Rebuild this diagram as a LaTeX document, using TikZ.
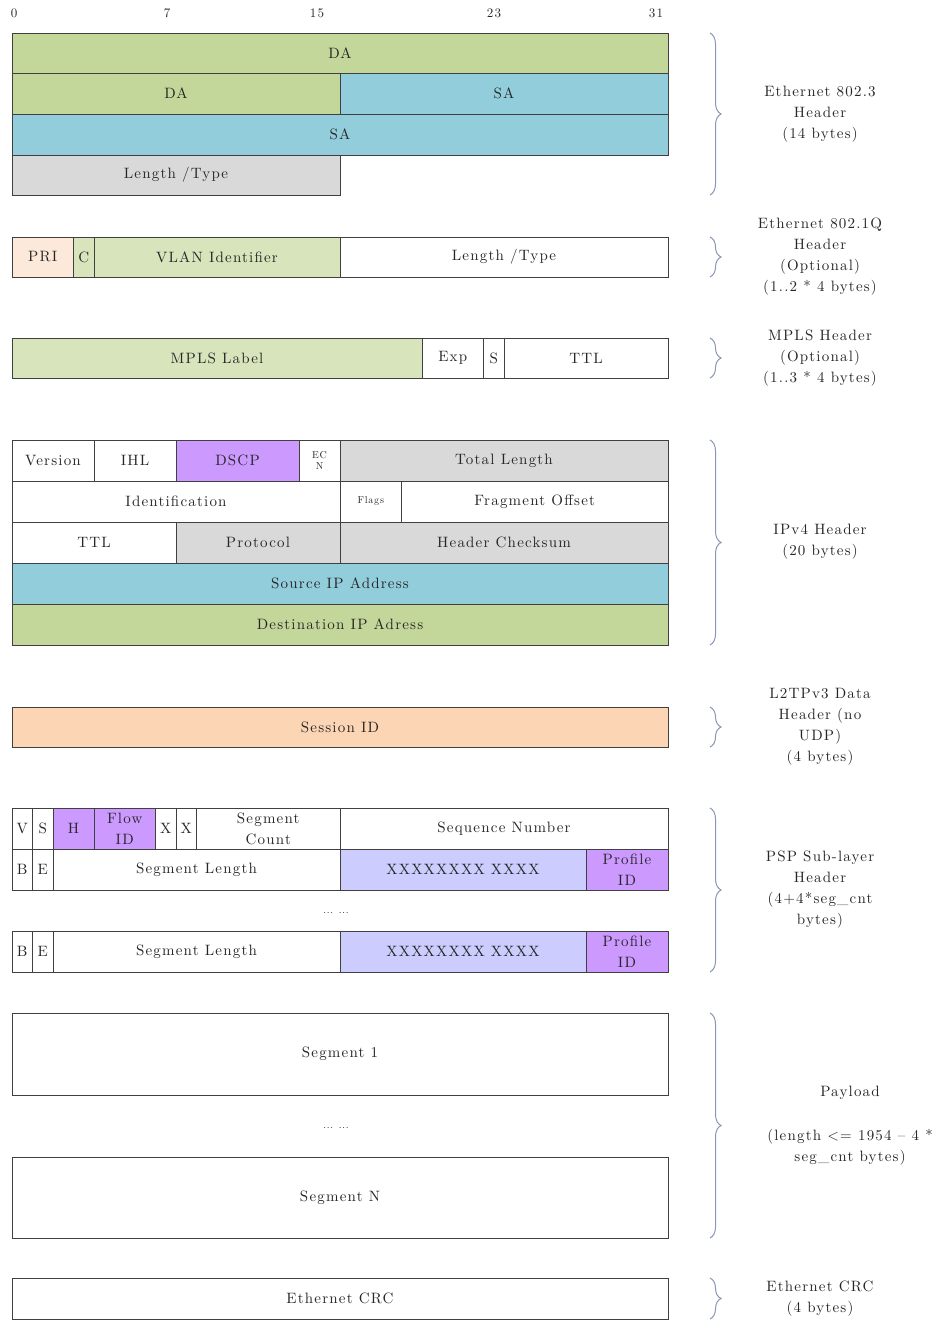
\documentclass[tikz,border=0pt]{standalone}
\usepackage{fontspec}
\setmainfont{lmroman10-regular}[Extension=.otf,LetterSpace=8]
\usetikzlibrary{decorations.pathreplacing}
\definecolor{cGreen}{HTML}{C4D79B}
\definecolor{cLGreen}{HTML}{D8E4BC}
\definecolor{cBlue}{HTML}{92CDDC}
\definecolor{cGray}{HTML}{D9D9D9}
\definecolor{cPeachL}{HTML}{FDE9D9}
\definecolor{cPeach}{HTML}{FCD5B4}
\definecolor{cPurple}{HTML}{CC99FF}
\definecolor{cLav}{HTML}{CCCCFF}
\definecolor{cBrace}{HTML}{8797B4}
\definecolor{cText}{HTML}{262626}
\newcommand\mainf{\fontsize{15}{21}\selectfont}
\newcommand\smallf{\fontsize{10}{11}\selectfont}
\newcommand\fieldbox[7]{\node[fieldst,#6,minimum width={(#4-#2)*1pt},minimum height={(#5-#3)*1pt}] (#1) at ({(#2+#4)/2},{(#3+#5)/2}) {#7};}
\tikzset{
  fieldst/.style={draw=black!75,line width=0.9pt,rectangle,inner sep=0pt,align=center,text=cText,font=\mainf,fill=white},
  lbl/.style={align=center,text=cText,font=\mainf,inner sep=0pt},
  tick/.style={text=cText,font=\fontsize{13}{14}\selectfont,inner sep=0pt},
  brc/.style={draw=cBrace,line width=1pt,decorate,decoration={brace,amplitude=11pt}}
}
\begin{document}
\begin{tikzpicture}[x=1pt,y=-1pt]
\useasboundingbox (0,0) rectangle (940,1321);
% bit ticks
\node[tick] (t0) at (14,13) {0};
\node[tick] (t7) at (167,13) {7};
\node[tick] (t15) at (317,13) {15};
\node[tick] (t23) at (494,13) {23};
\node[tick] (t31) at (656,13) {31};
% Ethernet 802.3
\fieldbox{da1}{12}{33}{668}{73}{fill=cGreen}{DA}
\fieldbox{da2}{12}{73}{340}{114}{fill=cGreen}{DA}
\fieldbox{sa1}{340}{73}{668}{114}{fill=cBlue}{SA}
\fieldbox{sa2}{12}{114}{668}{155}{fill=cBlue}{SA}
\fieldbox{lt1}{12}{155}{340}{195}{fill=cGray}{Length /Type}
% 802.1Q
\fieldbox{pri}{12}{237}{73.5}{277}{fill=cPeachL}{PRI}
\fieldbox{cfi}{73.5}{237}{94}{277}{fill=cLGreen}{C}
\fieldbox{vlan}{94}{237}{340}{277}{fill=cLGreen}{VLAN Identifier}
\fieldbox{lt2}{340}{237}{668}{277}{}{Length /Type}
% MPLS
\fieldbox{mlabel}{12}{338}{422}{378}{fill=cLGreen}{MPLS Label}
\fieldbox{mexp}{422}{338}{483.5}{378}{}{Exp}
\fieldbox{ms}{483.5}{338}{504}{378}{}{S}
\fieldbox{mttl}{504}{338}{668}{378}{}{TTL}
% IPv4
\fieldbox{ver}{12}{440}{94}{481}{}{Version}
\fieldbox{ihl}{94}{440}{176}{481}{}{IHL}
\fieldbox{dscp}{176}{440}{299}{481}{fill=cPurple}{DSCP}
\fieldbox{ecn}{299}{440}{340}{481}{font=\smallf}{EC\\N}
\fieldbox{totlen}{340}{440}{668}{481}{fill=cGray}{Total Length}
\fieldbox{ident}{12}{481}{340}{522}{}{Identification}
\fieldbox{flags}{340}{481}{401.5}{522}{font=\smallf}{Flags}
\fieldbox{fragoff}{401.5}{481}{668}{522}{}{Fragment Offset}
\fieldbox{ttl}{12}{522}{176}{563}{}{TTL}
\fieldbox{proto}{176}{522}{340}{563}{fill=cGray}{Protocol}
\fieldbox{cksum}{340}{522}{668}{563}{fill=cGray}{Header Checksum}
\fieldbox{srcip}{12}{563}{668}{604}{fill=cBlue}{Source IP Address}
\fieldbox{dstip}{12}{604}{668}{645}{fill=cGreen}{Destination IP Adress}
% L2TPv3
\fieldbox{sess}{12}{707}{668}{747}{fill=cPeach}{Session ID}
% PSP
\fieldbox{pv}{12}{808}{32.5}{849}{}{V}
\fieldbox{ps}{32.5}{808}{53}{849}{}{S}
\fieldbox{ph}{53}{808}{94}{849}{fill=cPurple}{H}
\fieldbox{pflow}{94}{808}{155.5}{849}{fill=cPurple}{Flow\\ID}
\fieldbox{px1}{155.5}{808}{176}{849}{}{X}
\fieldbox{px2}{176}{808}{196.5}{849}{}{X}
\fieldbox{psegcnt}{196.5}{808}{340}{849}{}{Segment\\Count}
\fieldbox{pseq}{340}{808}{668}{849}{}{Sequence Number}
\fieldbox{pb1}{12}{849}{32.5}{890}{}{B}
\fieldbox{pe1}{32.5}{849}{53}{890}{}{E}
\fieldbox{psl1}{53}{849}{340}{890}{}{Segment Length}
\fieldbox{pxx1}{340}{849}{586}{890}{fill=cLav}{XXXXXXXX XXXX}
\fieldbox{pprof1}{586}{849}{668}{890}{fill=cPurple}{Profile\\ID}
\node[lbl] (pdots) at (336,913) {\fontsize{10}{11}\selectfont ... ...};
\fieldbox{pb2}{12}{931}{32.5}{972}{}{B}
\fieldbox{pe2}{32.5}{931}{53}{972}{}{E}
\fieldbox{psl2}{53}{931}{340}{972}{}{Segment Length}
\fieldbox{pxx2}{340}{931}{586}{972}{fill=cLav}{XXXXXXXX XXXX}
\fieldbox{pprof2}{586}{931}{668}{972}{fill=cPurple}{Profile\\ID}
% Payload
\fieldbox{seg1}{12}{1013}{668}{1095}{}{Segment 1}
\node[lbl] (sdots) at (336,1128) {\fontsize{10}{11}\selectfont ... ...};
\fieldbox{segn}{12}{1157}{668}{1238}{}{Segment N}
% CRC
\fieldbox{crc}{12}{1278}{668}{1319}{}{Ethernet CRC}
% braces
\coordinate (b1t) at (710,33);   \coordinate (b1b) at (710,195);
\coordinate (b2t) at (710,237);  \coordinate (b2b) at (710,277);
\coordinate (b3t) at (710,338);  \coordinate (b3b) at (710,378);
\coordinate (b4t) at (710,440);  \coordinate (b4b) at (710,645);
\coordinate (b5t) at (710,707);  \coordinate (b5b) at (710,747);
\coordinate (b6t) at (710,808);  \coordinate (b6b) at (710,972);
\coordinate (b7t) at (710,1013); \coordinate (b7b) at (710,1238);
\coordinate (b8t) at (710,1278); \coordinate (b8b) at (710,1319);
\draw[brc] (b1t) -- (b1b);
\draw[brc] (b2t) -- (b2b);
\draw[brc] (b3t) -- (b3b);
\draw[brc] (b4t) -- (b4b);
\draw[brc] (b5t) -- (b5b);
\draw[brc] (b6t) -- (b6b);
\draw[brc] (b7t) -- (b7b);
\draw[brc] (b8t) -- (b8b);
% labels
\node[lbl] (l1) at (820,114) {Ethernet 802.3\\Header\\(14 bytes)};
\node[lbl] (l2) at (820,257) {Ethernet 802.1Q\\Header\\(Optional)\\(1..2 * 4 bytes)};
\node[lbl] (l3) at (820,358) {MPLS Header\\(Optional)\\(1..3 * 4 bytes)};
\node[lbl] (l4) at (820,542) {IPv4 Header\\(20 bytes)};
\node[lbl] (l5) at (820,727) {L2TPv3 Data\\Header (no\\UDP)\\(4 bytes)};
\node[lbl] (l6) at (820,890) {PSP Sub-layer\\Header\\(4+4*seg\_cnt\\bytes)};
\node[lbl] (l7a) at (850,1093) {Payload};
\node[lbl] (l7b) at (850,1147) {(length <= 1954 -- 4 *\\seg\_cnt bytes)};
\node[lbl] (l8) at (820,1299) {Ethernet CRC\\(4 bytes)};
\end{tikzpicture}
\end{document}
